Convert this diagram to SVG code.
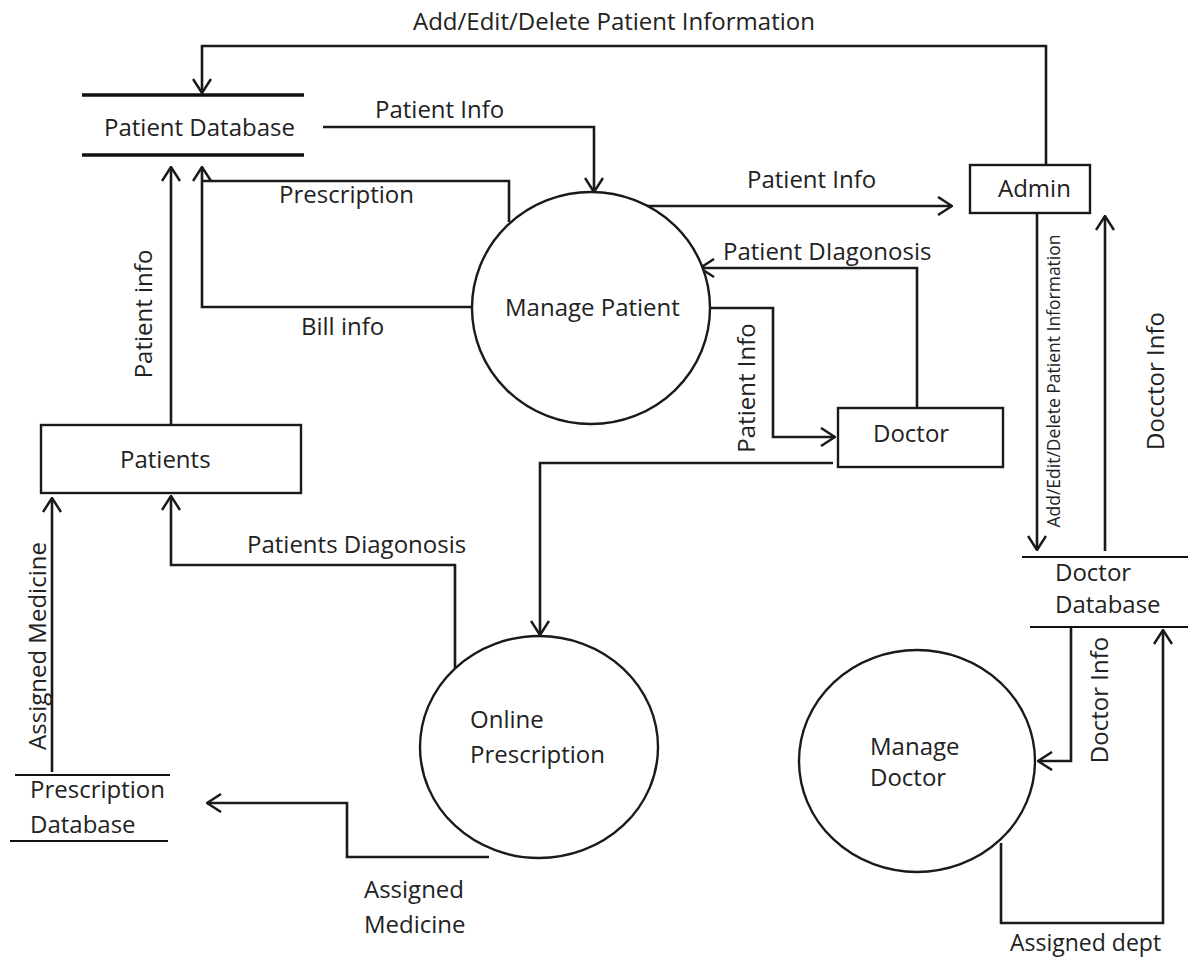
<svg xmlns="http://www.w3.org/2000/svg" width="1188" height="959" viewBox="0 0 1188 959">
<defs>
<marker id="arr" viewBox="0 0 16 20" refX="15" refY="10" markerWidth="16" markerHeight="20" markerUnits="userSpaceOnUse" orient="auto">
<path d="M1,1 L15,10 L1,19" fill="none" stroke="#1a1a1a" stroke-width="2.5"/>
</marker>
</defs>
<style>
text{font-family:"Open Sans","Liberation Sans",sans-serif;font-size:24px;fill:#222}
.small{font-size:17.5px}
.ln{fill:none;stroke:#1a1a1a;stroke-width:2.6}
.ar{marker-end:url(#arr)}
.box{fill:#fff;stroke:#1a1a1a;stroke-width:2.4}
.db{stroke:#111;stroke-width:3.5}
.db2{stroke:#111;stroke-width:2}
.proc{fill:#fff;stroke:#1a1a1a;stroke-width:2.4}
</style>
<rect width="1188" height="959" fill="#fff"/>
<g id="connectors">
<path class="ln ar" d="M1046,165 L1046,46 L202,46 L202,93"/>
<path class="ln ar" d="M323,127 L594,127 L594,192"/>
<path class="ln ar" d="M472,307 L202,307 L202,167"/>
<path class="ln" d="M509,222 L509,181 L202,181"/>
<path class="ln ar" d="M171,425 L171,167"/>
<path class="ln ar" d="M642,206 L952,206"/>
<path class="ln ar" d="M917,408 L917,268 L700,268"/>
<path class="ln ar" d="M710,308 L773,308 L773,437 L835,437"/>
<path class="ln ar" d="M833,463 L540,463 L540,635"/>
<path class="ln ar" d="M455,668 L455,565 L171,565 L171,496"/>
<path class="ln ar" d="M52,772 L52,498"/>
<path class="ln ar" d="M489,857 L347,857 L347,803 L207,803"/>
<path class="ln ar" d="M1037,213 L1037,550"/>
<path class="ln ar" d="M1105,551 L1105,216"/>
<path class="ln ar" d="M1071,627 L1071,761 L1038,761"/>
<path class="ln ar" d="M1001,843 L1001,923 L1163,923 L1163,630"/>
<text x="413" y="30">Add/Edit/Delete Patient Information</text>
<text x="375" y="118">Patient Info</text>
<text x="279" y="203">Prescription</text>
<text x="301" y="335">Bill info</text>
<text x="747" y="188">Patient Info</text>
<text x="723" y="260">Patient DIagonosis</text>
<text x="247" y="553">Patients Diagonosis</text>
<text x="364" y="898">Assigned</text>
<text x="364" y="933">Medicine</text>
<text x="1010" y="951" style="font-size:23px">Assigned dept</text>
<text transform="translate(152,314) rotate(-90)" text-anchor="middle">Patient info</text>
<text transform="translate(46,646) rotate(-90)" text-anchor="middle">Assigned Medicine</text>
<text transform="translate(755,388) rotate(-90)" text-anchor="middle">Patient Info</text>
<text transform="translate(1164,381) rotate(-90)" text-anchor="middle">Docctor Info</text>
<text transform="translate(1108,700) rotate(-90)" text-anchor="middle">Doctor Info</text>
<text class="small" transform="translate(1060,381) rotate(-90)" text-anchor="middle">Add/Edit/Delete Patient Information</text>
</g>
<g id="patient-database">
<line class="db" x1="82" y1="95" x2="304" y2="95"/>
<line class="db" x1="82" y1="155" x2="304" y2="155"/>
<text x="104" y="136">Patient Database</text>
</g>
<g id="manage-patient">
<ellipse class="proc" cx="591" cy="308" rx="119" ry="116"/>
<text x="505" y="316">Manage Patient</text>
</g>
<g id="admin">
<rect class="box" x="970" y="165" width="120" height="48"/>
<text x="998" y="197">Admin</text>
</g>
<g id="doctor">
<rect class="box" x="838" y="408" width="165" height="59"/>
<text x="873" y="442">Doctor</text>
</g>
<g id="patients">
<rect class="box" x="41" y="425" width="260" height="68"/>
<text x="120" y="468">Patients</text>
</g>
<g id="online-prescription">
<ellipse class="proc" cx="539" cy="747" rx="119" ry="111"/>
<text x="470" y="728">Online</text>
<text x="470" y="763">Prescription</text>
</g>
<g id="manage-doctor">
<ellipse class="proc" cx="917" cy="761" rx="118" ry="111"/>
<text x="870" y="755">Manage</text>
<text x="870" y="786">Doctor</text>
</g>
<g id="prescription-database">
<line class="db2" x1="15" y1="775" x2="170" y2="775"/>
<line class="db2" x1="10" y1="841" x2="168" y2="841"/>
<text x="30" y="798">Prescription</text>
<text x="30" y="833">Database</text>
</g>
<g id="doctor-database">
<line class="db2" x1="1022" y1="557" x2="1188" y2="557"/>
<line class="db2" x1="1030" y1="627" x2="1188" y2="627"/>
<text x="1055" y="581">Doctor</text>
<text x="1055" y="613">Database</text>
</g>
</svg>
